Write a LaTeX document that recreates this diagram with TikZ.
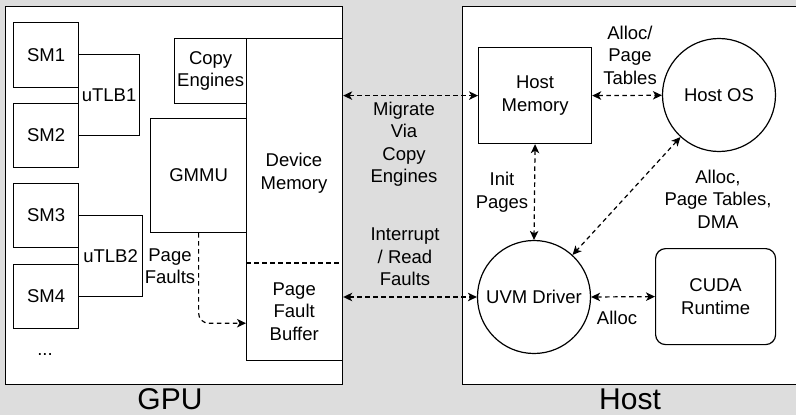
\documentclass[tikz,border=0pt]{standalone}
\usepackage{fontspec}
\setmainfont{Liberation Sans}
\usetikzlibrary{positioning,arrows.meta}
\definecolor{bgGray}{RGB}{221,221,221}
\tikzset{every node/.style={font=\fontsize{18.5}{22.5}\selectfont, align=center},
	box/.style={draw, rectangle, fill=white, line width=1.2pt, inner sep=0pt, anchor=north west},
	hub/.style={draw, circle, fill=white, line width=1.2pt, inner sep=0pt, minimum size=113pt},
	flow/.style={line width=1.2pt, dash pattern=on 4.5pt off 3.5pt, {Stealth[length=9pt,width=8.5pt,inset=2.5pt]}-{Stealth[length=9pt,width=8.5pt,inset=2.5pt]}},
	big/.style={font=\fontsize{30}{34}\selectfont, inner sep=0pt}}

\begin{document}
\begin{tikzpicture}[x=1pt,y=-1pt]
				\fill[bgGray] (0,0) rectangle (796,415);
				\useasboundingbox (0,0) rectangle (796,415);

				% GPU side
				\node[box, minimum width=337pt, minimum height=378pt] (GPU) at (5,6) {};
				\node[box, minimum width=61pt, minimum height=81pt] (uTLB1) at (78,54) {uTLB1};
				\node[box, minimum width=65pt, minimum height=65pt] (SM1) at (13,22) {SM1};
				\node[box, minimum width=65pt, minimum height=64pt] (SM2) at (13,103) {SM2};
				\node[box, minimum width=64pt, minimum height=81pt] (uTLB2) at (78,215) {uTLB2};
				\node[box, minimum width=65pt, minimum height=64pt] (SM3) at (13,183) {SM3};
				\node[box, minimum width=65pt, minimum height=64pt] (SM4) at (13,264) {SM4};
				\node (SMdots) at (45,355) {...};
				\node[box, minimum width=72pt, minimum height=65pt] (CE) at (174,38) {Copy\\Engines};
				\node[box, minimum width=96pt, minimum height=114pt] (GMMU) at (150,118) {GMMU};
				\node[box, minimum width=96pt, minimum height=322pt] (DevMem) at (246,38) {};
				\node (DevMemLbl) at (294,173) {Device\\Memory};
				\node[minimum width=96pt, minimum height=97pt, inner sep=0pt, anchor=north west] (PFB) at (246,263) {Page\\Fault\\Buffer};
				\draw[line width=1.2pt, dash pattern=on 4.5pt off 3.5pt] (PFB.north west) -- (PFB.north east);
				\node (FaultLbl) at (170,266) {Page\\Faults};
				\node[big] (GPUlbl) at (170,399) {GPU};

				% Host side
				\node[box, minimum width=340pt, minimum height=378pt] (Host) at (462,6) {};
				\node[box, minimum width=113pt, minimum height=96pt] (HostMem) at (478,47) {Host\\Memory};
				\node[hub] (HostOS) at (719,95) {Host OS};
				\node[hub] (UVM) at (534,297) {UVM Driver};
				\node[box, rounded corners=10pt, minimum width=120pt, minimum height=96pt] (CUDA) at (655,248) {CUDA\\Runtime};
				\node[big] (Hostlbl) at (630,399) {Host};

				% labels
				\node (MigrateLbl) at (404,144) {Migrate\\Via\\Copy\\Engines};
				\node (IrqLbl) at (405,257) {Interrupt\\/ Read\\Faults};
				\node (TablesLbl) at (630,55) {Alloc/\\Page\\Tables};
				\node (InitLbl) at (502,192) {Init\\Pages};
				\node (DmaLbl) at (718,199) {Alloc,\\Page Tables,\\DMA};
				\node (AllocLbl) at (617,318) {Alloc};

				\path[flow]
				(HostMem.west -| GPU.east) edge (HostMem.west)
				(UVM.west -| GPU.east) edge (UVM.west)
				(HostMem.east) edge (HostOS)
				(HostMem.south) edge (UVM.north)
				(HostOS) edge (UVM)
				(UVM.east) edge (CUDA.west)
				;
				\draw[line width=1.2pt, dash pattern=on 4.5pt off 3.5pt, -{Stealth[length=9pt,width=8.5pt,inset=2.5pt]}, rounded corners=10pt]
				(GMMU.south) |- ([yshift=-11.5pt]PFB.west);

			\end{tikzpicture}
\end{document}
